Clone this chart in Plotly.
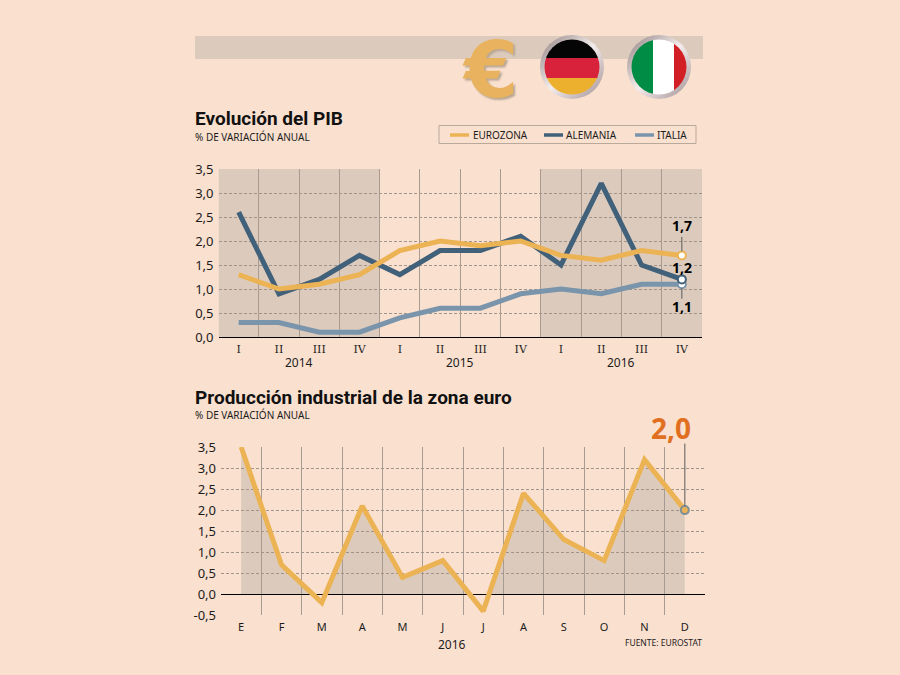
import base64
import plotly.graph_objects as go

# data
trimestres = ["I", "II", "III", "IV"] * 3
anios = ["2014", "2015", "2016"]
eurozona = [1.3, 1.0, 1.1, 1.3, 1.8, 2.0, 1.9, 2.0, 1.7, 1.6, 1.8, 1.7]
alemania = [2.6, 0.9, 1.2, 1.7, 1.3, 1.8, 1.8, 2.1, 1.5, 3.2, 1.5, 1.2]
italia = [0.3, 0.3, 0.1, 0.1, 0.4, 0.6, 0.6, 0.9, 1.0, 0.9, 1.1, 1.1]
meses = ["E", "F", "M", "A", "M", "J", "J", "A", "S", "O", "N", "D"]
produccion = [3.5, 0.7, -0.2, 2.1, 0.4, 0.8, -0.4, 2.4, 1.3, 0.8, 3.2, 2.0]
ticks_pib = [0, 0.5, 1, 1.5, 2, 2.5, 3, 3.5]
labels_pib = ["0,0", "0,5", "1,0", "1,5", "2,0", "2,5", "3,0", "3,5"]
ticks_prod = [-0.5] + ticks_pib
labels_prod = ["-0,5"] + labels_pib

BG = "#fae0cf"
SHADE = "#dccbbd"
NARANJA = "#ecb355"
AZUL = "#41607a"
GRIS = "#7a95ab"
GRID = "#a0948b"
VLINE = "#a89c92"
TEXT = "#1c1c1c"
SANS = "Noto Sans"
BOLD = "Roboto"
DASH = "3px,2px"


def px(x):
    return x / 900


def py(y):
    return 1 - y / 675


def flag_uri(stripes):
    svg = ('<svg xmlns="http://www.w3.org/2000/svg" width="66" height="66" viewBox="0 0 66 66">'
           '<defs><linearGradient id="r" x1="0" y1="0" x2="1" y2="1">'
           '<stop offset="0" stop-color="#8f8080"/><stop offset="0.5" stop-color="#f4ecec"/>'
           '<stop offset="1" stop-color="#a08f92"/></linearGradient>'
           '<clipPath id="c"><circle cx="33" cy="33" r="27.5"/></clipPath></defs>'
           '<circle cx="33" cy="33" r="32" fill="url(#r)"/><g clip-path="url(#c)">' + stripes + '</g></svg>')
    return "data:image/svg+xml;base64," + base64.b64encode(svg.encode()).decode()


germany = ('<rect x="0" y="0" width="66" height="24" fill="#050505"/>'
           '<rect x="0" y="24" width="66" height="20" fill="#d8213a"/>'
           '<rect x="0" y="44" width="66" height="22" fill="#edb02e"/>')
italy = ('<rect x="0" y="0" width="27" height="66" fill="#008c45"/>'
         '<rect x="27" y="0" width="21" height="66" fill="#ffffff"/>'
         '<rect x="48" y="0" width="18" height="66" fill="#d21f26"/>')

fig = go.Figure()
pos = list(range(len(trimestres)))

# top chart
for serie, color in [(italia, GRIS), (alemania, AZUL), (eurozona, NARANJA)]:
    fig.add_trace(go.Scatter(x=pos, y=serie, mode="lines", showlegend=False,
                             line=dict(color=color, width=5), xaxis="x", yaxis="y"))
for serie, color in [(italia, GRIS), (alemania, AZUL), (eurozona, NARANJA)]:
    fig.add_trace(go.Scatter(x=[pos[-1]], y=[serie[-1]], mode="markers", showlegend=False,
                             marker=dict(color="white", size=8, line=dict(color=color, width=2)),
                             xaxis="x", yaxis="y", cliponaxis=False))

# bottom chart: fill on y2, which starts at zero so the dips below the axis stay unshaded
fig.add_trace(go.Scatter(x=pos, y=produccion, mode="lines", showlegend=False, fill="tozeroy",
                         fillcolor=SHADE, line=dict(width=1, color=SHADE, simplify=False),
                         xaxis="x2", yaxis="y2"))
fig.add_trace(go.Scatter(x=pos, y=produccion, mode="lines", showlegend=False, cliponaxis=False,
                         line=dict(color=NARANJA, width=5), xaxis="x2", yaxis="y3"))
fig.add_trace(go.Scatter(x=[pos[-1]], y=[produccion[-1]], mode="markers", showlegend=False,
                         marker=dict(color=NARANJA, size=8, line=dict(color="#7f8f96", width=2)),
                         xaxis="x2", yaxis="y3", cliponaxis=False))

bordes = [p + 0.5 for p in pos]
fig.update_layout(
    width=900, height=675, margin=dict(l=0, r=0, t=0, b=0), autosize=False, showlegend=False,
    paper_bgcolor=BG, plot_bgcolor="rgba(0,0,0,0)",
    font=dict(family=SANS, color=TEXT, size=12),
    xaxis=dict(domain=[px(218.5), px(702)], range=[-0.5, 11.5], anchor="y", tickmode="array", automargin=False,
               tickvals=pos, ticktext=trimestres, showgrid=False, ticks="", zeroline=False,
               tickfont=dict(family="DejaVu Serif", size=11), ticklabelstandoff=4,
               minor=dict(tickmode="array", tickvals=bordes, showgrid=True, gridcolor=VLINE, gridwidth=1, ticks="")),
    yaxis=dict(domain=[py(337), py(169)], range=[0, 3.5], anchor="x", tickmode="array", automargin=False,
               tickvals=ticks_pib, ticktext=labels_pib, gridcolor=GRID, gridwidth=0.7, griddash=DASH,
               zeroline=True, zerolinecolor="black", zerolinewidth=1.2, tickfont=dict(size=13), ticklabelstandoff=4),
    xaxis2=dict(domain=[px(221), px(705)], range=[-0.5, 11.5], anchor="y3", tickmode="array", automargin=False,
                tickvals=pos, ticktext=meses, showgrid=False, ticks="", zeroline=False,
                tickfont=dict(size=11), ticklabelstandoff=4,
                minor=dict(tickmode="array", tickvals=bordes, showgrid=True, gridcolor=VLINE, gridwidth=1, ticks="")),
    yaxis2=dict(domain=[py(594.3), py(447)], range=[0, 3.5], anchor="x2", visible=False, automargin=False),
    yaxis3=dict(domain=[py(615.3), py(447)], range=[-0.5, 3.5], anchor="x2", tickmode="array", automargin=False,
                tickvals=ticks_prod, ticktext=labels_prod, gridcolor=GRID, gridwidth=0.7, griddash=DASH,
                zeroline=True, zerolinecolor="black", zerolinewidth=1.2, tickfont=dict(size=13), ticklabelstandoff=4),
    images=[
        dict(source=flag_uri(germany), xref="paper", yref="paper", x=px(572), y=py(67), sizex=px(66),
             sizey=66 / 675, xanchor="center", yanchor="middle", layer="above"),
        dict(source=flag_uri(italy), xref="paper", yref="paper", x=px(659), y=py(67), sizex=px(66),
             sizey=66 / 675, xanchor="center", yanchor="middle", layer="above"),
    ],
)

# shaded years and top banner
fig.add_shape(type="rect", xref="paper", yref="paper", x0=px(195), x1=px(703), y0=py(59), y1=py(36),
              fillcolor=SHADE, line_width=0, layer="below")
fig.add_shape(type="rect", xref="x", yref="y", x0=-0.5, x1=3.5, y0=0, y1=3.5, fillcolor=SHADE, line_width=0, layer="below")
fig.add_shape(type="rect", xref="x", yref="y", x0=7.5, x1=11.5, y0=0, y1=3.5, fillcolor=SHADE, line_width=0, layer="below")


def texto(x, y, s, size=10, family=SANS, color=TEXT, anchor="left", **kw):
    fig.add_annotation(x=px(x), y=py(y), xref="paper", yref="paper", text=s, showarrow=False, xanchor=anchor,
                       yanchor="middle", font=dict(size=size, family=family, color=color, **kw))


def guia(xref, yref, x, y, ay):
    fig.add_annotation(x=x, y=y, xref=xref, yref=yref, text="", showarrow=True, arrowhead=0, arrowwidth=1,
                       arrowcolor="#5a5a5a", ax=0, ay=ay, standoff=4)


# legend box drawn by hand to keep its exact size
fig.add_shape(type="rect", xref="paper", yref="paper", x0=px(439), x1=px(696), y0=py(143.5), y1=py(125.5),
              line=dict(color="#b9a99b", width=1), fillcolor="rgba(0,0,0,0)")
for nombre, color, x0, xt in [("EUROZONA", NARANJA, 450, 471), ("ALEMANIA", AZUL, 544, 564), ("ITALIA", GRIS, 635, 655)]:
    fig.add_shape(type="line", xref="paper", yref="paper", x0=px(x0), x1=px(x0 + 19), y0=py(135), y1=py(135),
                  line=dict(color=color, width=3.5))
    texto(xt, 135, nombre, 10)

texto(193, 119, "<b>Evolución del PIB</b>", 19, BOLD, "#111111")
texto(193, 137, "% DE VARIACIÓN ANUAL", 10)
texto(193, 397, "<b>Producción industrial de la zona euro</b>", 19, BOLD, "#111111")
texto(193, 415, "% DE VARIACIÓN ANUAL", 10)
texto(704, 642, "FUENTE: EUROSTAT", 8.5, anchor="right")
texto(490, 70, "<b>€</b>", 78, "DejaVu Sans", "#e9b25f", anchor="center", shadow="2px 2px 2px #b9a793")
for i, anio in enumerate(anios):
    texto(299 + i * 161, 362, anio, 12, anchor="center")
texto(452, 644, "2016", 12, anchor="center")

# end values
texto(682, 226, "<b>1,7</b>", 14, SANS, "black", anchor="center")
texto(682, 267, "<b>1,2</b>", 14, SANS, "black", anchor="center")
texto(682, 306, "<b>1,1</b>", 14, SANS, "black", anchor="center")
texto(671, 428, "<b>2,0</b>", 28, SANS, "#e0701f", anchor="center")
guia("x", "y", pos[-1], eurozona[-1], -20)
guia("x", "y", pos[-1], italia[-1], 16)
guia("x2", "y3", pos[-1], produccion[-1], -68)

fig.write_html("out.html", config=dict(displayModeBar=False),
               post_script="document.body.style.margin='0';document.body.style.background='%s';" % BG)
